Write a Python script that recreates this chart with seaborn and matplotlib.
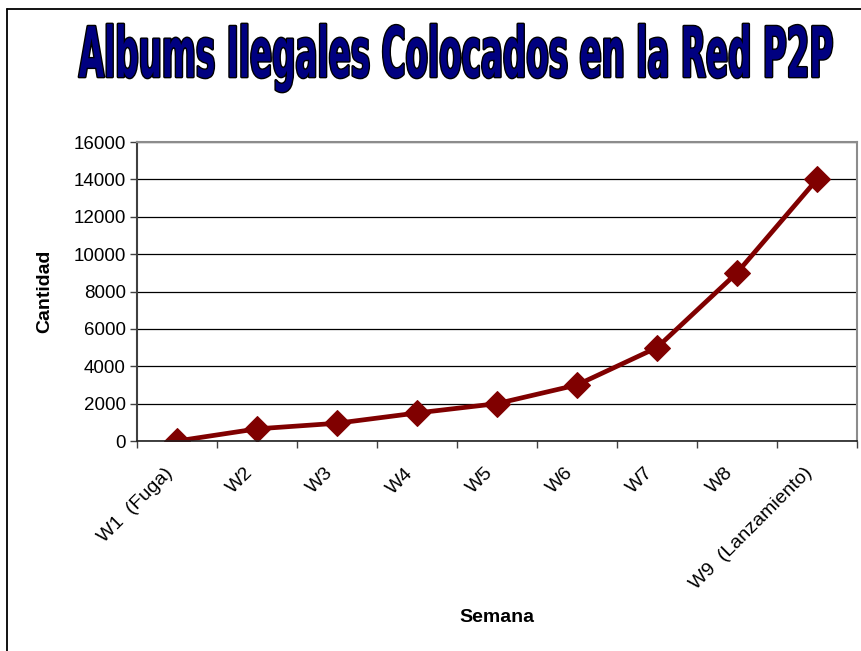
import matplotlib
matplotlib.use("Agg")
import matplotlib.pyplot as plt
import seaborn as sns
import pandas as pd
from matplotlib.patheffects import AbstractPathEffect
from matplotlib.transforms import Affine2D
from matplotlib.lines import Line2D
from matplotlib.ticker import FixedLocator

# ---- data ----
semanas = ["W1  (Fuga)", "W2", "W3", "W4", "W5", "W6", "W7", "W8", "W9  (Lanzamiento)"]
cantidad = [0, 650, 950, 1500, 2000, 3000, 5000, 9000, 14000]
y_ticks = [0, 2000, 4000, 6000, 8000, 10000, 12000, 14000, 16000]

titulo = "Albums Ilegales Colocados en la Red P2P"
y_label = "Cantidad"
x_label = "Semana"

W, H = 861, 651
DPI = 100


class FitBox(AbstractPathEffect):
    """Stretch the whole text path into a pixel box (WordArt-like look)."""

    def __init__(self, box, fill, stroke, lw):
        super().__init__()
        self.box = box
        self.fill = fill
        self.stroke = stroke
        self.lw = lw

    def draw_path(self, renderer, gc, tpath, affine, rgbFace=None):
        ext = tpath.get_extents(affine)
        bx0, btop, bx1, bbot = self.box
        x0, x1 = bx0, bx1
        y0, y1 = H - bbot, H - btop
        t = (Affine2D().translate(-ext.x0, -ext.y0)
             .scale((x1 - x0) / ext.width, (y1 - y0) / ext.height)
             .translate(x0, y0))
        new_aff = affine + t
        g1 = renderer.new_gc()
        g1.copy_properties(gc)
        g1.set_linewidth(self.lw)
        g1.set_foreground(self.stroke)
        g1.set_joinstyle("round")
        renderer.draw_path(g1, tpath, new_aff, matplotlib.colors.to_rgba(self.stroke))
        g1.restore()
        g2 = renderer.new_gc()
        g2.copy_properties(gc)
        g2.set_linewidth(0)
        renderer.draw_path(g2, tpath, new_aff, matplotlib.colors.to_rgba(self.fill))
        g2.restore()


sns.set_theme(style="white")
plt.rcParams["font.family"] = ["Liberation Sans", "DejaVu Sans"]

fig = plt.figure(figsize=(W / DPI, H / DPI), dpi=DPI)
fig.patch.set_facecolor("white")

L, R, T, B = 137, 857, 142, 441
ax = fig.add_axes([L / W, (H - B) / H, (R - L) / W, (B - T) / H])

df = pd.DataFrame({"Semana": semanas, "Cantidad": cantidad})
sns.lineplot(data=df, x="Semana", y="Cantidad", ax=ax, color="#800000",
             linewidth=3.4, marker="D", markersize=13.5,
             markeredgecolor="#800000", markerfacecolor="#800000", sort=False)

n = len(semanas)
ax.set_xlim(-0.5, n - 0.5)
ax.set_ylim(0, 16000)
ax.set_yticks(y_ticks)
ax.set_yticklabels([str(v) for v in y_ticks], fontsize=13.5, color="black")

# label anchors sit slightly left of each category centre (Excel style)
ax.set_xticks([i - 0.16 for i in range(n)])
ax.set_xticklabels(semanas, rotation=45, ha="right", va="top",
                   rotation_mode="anchor", fontsize=14, color="black")
ax.tick_params(axis="x", which="major", length=0, pad=17)
ax.xaxis.set_minor_locator(FixedLocator([i - 0.5 for i in range(n + 1)]))
ax.tick_params(axis="x", which="minor", length=5, width=1, color="#404040",
               direction="out", bottom=True)
ax.tick_params(axis="y", which="major", length=5, width=1, color="#404040",
               direction="out", left=True, pad=3)

ax.yaxis.grid(True, color="black", linewidth=0.9)
ax.xaxis.grid(False)
ax.set_axisbelow(True)

for side in ["top", "right"]:
    ax.spines[side].set_color("#8c8c8c")
    ax.spines[side].set_linewidth(1.5)
ax.spines["left"].set_color("#404040")
ax.spines["left"].set_linewidth(1.5)
ax.spines["bottom"].set_color("#202020")
ax.spines["bottom"].set_linewidth(1.2)

ax.set_ylabel(y_label, fontsize=14, fontweight="bold", color="black")
ax.yaxis.set_label_coords((45 - L) / (R - L), 0.5)
ax.yaxis.label.set_va("center")
ax.set_xlabel(x_label, fontsize=14, fontweight="bold", color="black")
ax.xaxis.set_label_coords((497 - L) / (R - L), (B - 617) / (B - T))
ax.xaxis.label.set_va("center")

# WordArt-style title (stretched into its box by the path effect)
fig.text(0.5, 0.9, titulo, fontsize=18, fontweight="bold", ha="center",
         va="center", family=["DejaVu Sans"],
         path_effects=[FitBox((79, 24, 832, 92), fill="#000080", stroke="black", lw=2.0)])

# outer frame (top and left visible)
fig.add_artist(Line2D([7 / W, 1.0], [(H - 9) / H] * 2, transform=fig.transFigure,
                      color="black", linewidth=1.3))
fig.add_artist(Line2D([7 / W] * 2, [0, (H - 9) / H], transform=fig.transFigure,
                      color="black", linewidth=1.3))

fig.savefig("out.png", dpi=DPI)
